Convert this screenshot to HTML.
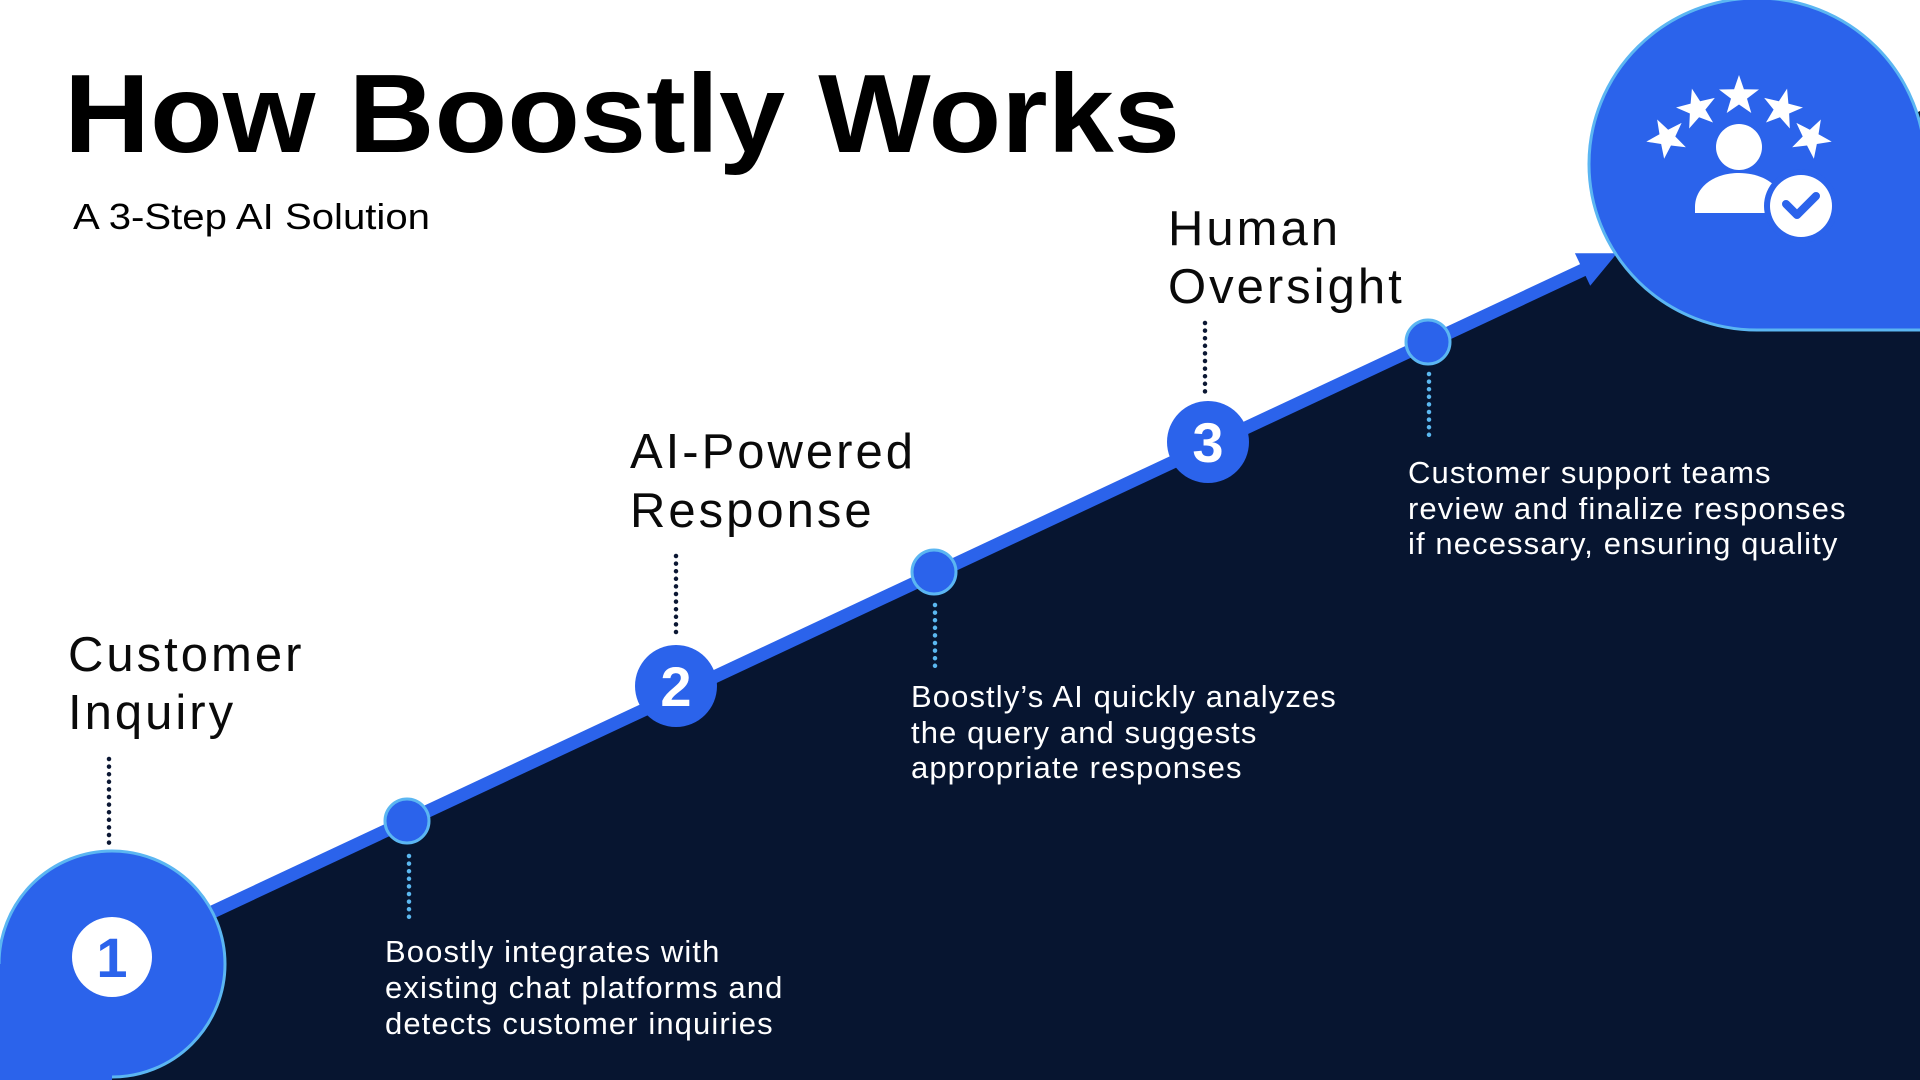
<!DOCTYPE html>
<html>
<head>
<meta charset="utf-8">
<style>
  html, body { margin:0; padding:0; background:#ffffff; }
  body { width:1920px; height:1080px; overflow:hidden; position:relative; }
  svg { position:absolute; left:0; top:0; display:block; }
  text { font-family: "Liberation Sans", "DejaVu Sans", sans-serif; }
</style>
</head>
<body>
<svg width="1920" height="1080" viewBox="0 0 1920 1080" xmlns="http://www.w3.org/2000/svg">
  <!-- background -->
  <rect x="0" y="0" width="1920" height="1080" fill="#ffffff"/>

  <!-- navy region below line -->
  <polygon points="100,965 1920,111 1920,1080 100,1080" fill="#071530"/>

  <!-- main diagonal line -->
  <line x1="112" y1="959" x2="1584" y2="269.5" stroke="#2B63EB" stroke-width="13"/>
  <!-- arrowhead -->
  <polygon points="1574.9,253.2 1617,253.3 1590.2,285.8" fill="#2B63EB"/>

  <!-- big top-right teardrop -->
  <path d="M1589,164 A168,166 0 0 1 1925,164 L1925,330 L1757,330 A168,166 0 0 1 1589,164 Z"
        fill="#2B63EB" stroke="#5BB6F2" stroke-width="3"/>

  <!-- icon: stars -->
  <g fill="#ffffff">
    <polygon transform="translate(1739,96)" points="0,-21 4.9,-6.8 20,-6.5 8,2.6 12.3,17 0,8.5 -12.3,17 -8,2.6 -20,-6.5 -4.9,-6.8"/>
    <polygon transform="translate(1697,109) rotate(-14)" points="0,-21 4.9,-6.8 20,-6.5 8,2.6 12.3,17 0,8.5 -12.3,17 -8,2.6 -20,-6.5 -4.9,-6.8"/>
    <polygon transform="translate(1782,109) rotate(14)" points="0,-21 4.9,-6.8 20,-6.5 8,2.6 12.3,17 0,8.5 -12.3,17 -8,2.6 -20,-6.5 -4.9,-6.8"/>
    <polygon transform="translate(1667,138) rotate(-28)" points="0,-21 4.9,-6.8 20,-6.5 8,2.6 12.3,17 0,8.5 -12.3,17 -8,2.6 -20,-6.5 -4.9,-6.8"/>
    <polygon transform="translate(1811,138) rotate(28)" points="0,-21 4.9,-6.8 20,-6.5 8,2.6 12.3,17 0,8.5 -12.3,17 -8,2.6 -20,-6.5 -4.9,-6.8"/>
    <!-- person -->
    <circle cx="1739" cy="147" r="23"/>
    <path d="M1695,213 L1695,207 C1695,187 1714,173 1739,173 C1764,173 1784,187 1784,207 L1784,213 Z"/>
  </g>
  <circle cx="1801" cy="206" r="37" fill="#2B63EB"/>
  <circle cx="1801" cy="206" r="31" fill="#ffffff"/>
  <polyline points="1786,204 1797,215 1816,196" fill="none" stroke="#2B63EB" stroke-width="8" stroke-linecap="round" stroke-linejoin="round"/>

  <!-- bottom-left teardrop (step 1) -->
  <circle cx="112" cy="964" r="113" fill="#2B63EB" stroke="#5BB6F2" stroke-width="3"/>
  <rect x="-4" y="964" width="116" height="122" fill="#2B63EB"/>
  <circle cx="112" cy="957" r="40" fill="#ffffff"/>
  <text x="112" y="977" font-size="56" font-weight="bold" fill="#2B63EB" text-anchor="middle">1</text>

  <!-- step circles 2 and 3 -->
  <circle cx="676" cy="686" r="41" fill="#2B63EB"/>
  <text x="676" y="706" font-size="56" font-weight="bold" fill="#ffffff" text-anchor="middle">2</text>
  <circle cx="1208" cy="442" r="41" fill="#2B63EB"/>
  <text x="1208" y="462" font-size="56" font-weight="bold" fill="#ffffff" text-anchor="middle">3</text>

  <!-- small dots on line -->
  <circle cx="407" cy="821" r="22" fill="#2B63EB" stroke="#5BB6F2" stroke-width="3"/>
  <circle cx="934" cy="572" r="22" fill="#2B63EB" stroke="#5BB6F2" stroke-width="3"/>
  <circle cx="1428" cy="342" r="22" fill="#2B63EB" stroke="#5BB6F2" stroke-width="3"/>

  <!-- dark dotted connectors (labels) -->
  <g stroke="#0B1733" stroke-width="4.5" stroke-linecap="round" stroke-dasharray="0 7.6" fill="none">
    <line x1="109" y1="759" x2="109" y2="848"/>
    <line x1="676" y1="556" x2="676" y2="638"/>
    <line x1="1205" y1="323" x2="1205" y2="397"/>
  </g>
  <!-- light dotted connectors (descriptions) -->
  <g stroke="#5BB8F0" stroke-width="4.5" stroke-linecap="round" stroke-dasharray="0 7.6" fill="none">
    <line x1="409" y1="856" x2="409" y2="921"/>
    <line x1="935" y1="605" x2="935" y2="672"/>
    <line x1="1429" y1="374" x2="1429" y2="440"/>
  </g>

  <!-- title -->
  <text x="64" y="152" font-size="111" font-weight="bold" fill="#000000" textLength="1116" lengthAdjust="spacingAndGlyphs">How Boostly Works</text>
  <text x="73" y="229" font-size="36" fill="#000000" textLength="357" lengthAdjust="spacingAndGlyphs">A 3-Step AI Solution</text>

  <!-- step labels -->
  <g font-size="49" fill="#0a0a0a" letter-spacing="3">
    <text x="68" y="671">Customer</text>
    <text x="68" y="729">Inquiry</text>
    <text x="630" y="468">AI-Powered</text>
    <text x="630" y="527">Response</text>
    <text x="1168" y="245">Human</text>
    <text x="1168" y="303">Oversight</text>
  </g>

  <!-- descriptions -->
  <g font-size="31" fill="#ffffff" letter-spacing="1.1">
    <text x="385" y="962">Boostly integrates with</text>
    <text x="385" y="998">existing chat platforms and</text>
    <text x="385" y="1034">detects customer inquiries</text>
    <text x="911" y="707">Boostly’s AI quickly analyzes</text>
    <text x="911" y="743">the query and suggests</text>
    <text x="911" y="778">appropriate responses</text>
    <text x="1408" y="483">Customer support teams</text>
    <text x="1408" y="519">review and finalize responses</text>
    <text x="1408" y="554">if necessary, ensuring quality</text>
  </g>
</svg>
</body>
</html>
